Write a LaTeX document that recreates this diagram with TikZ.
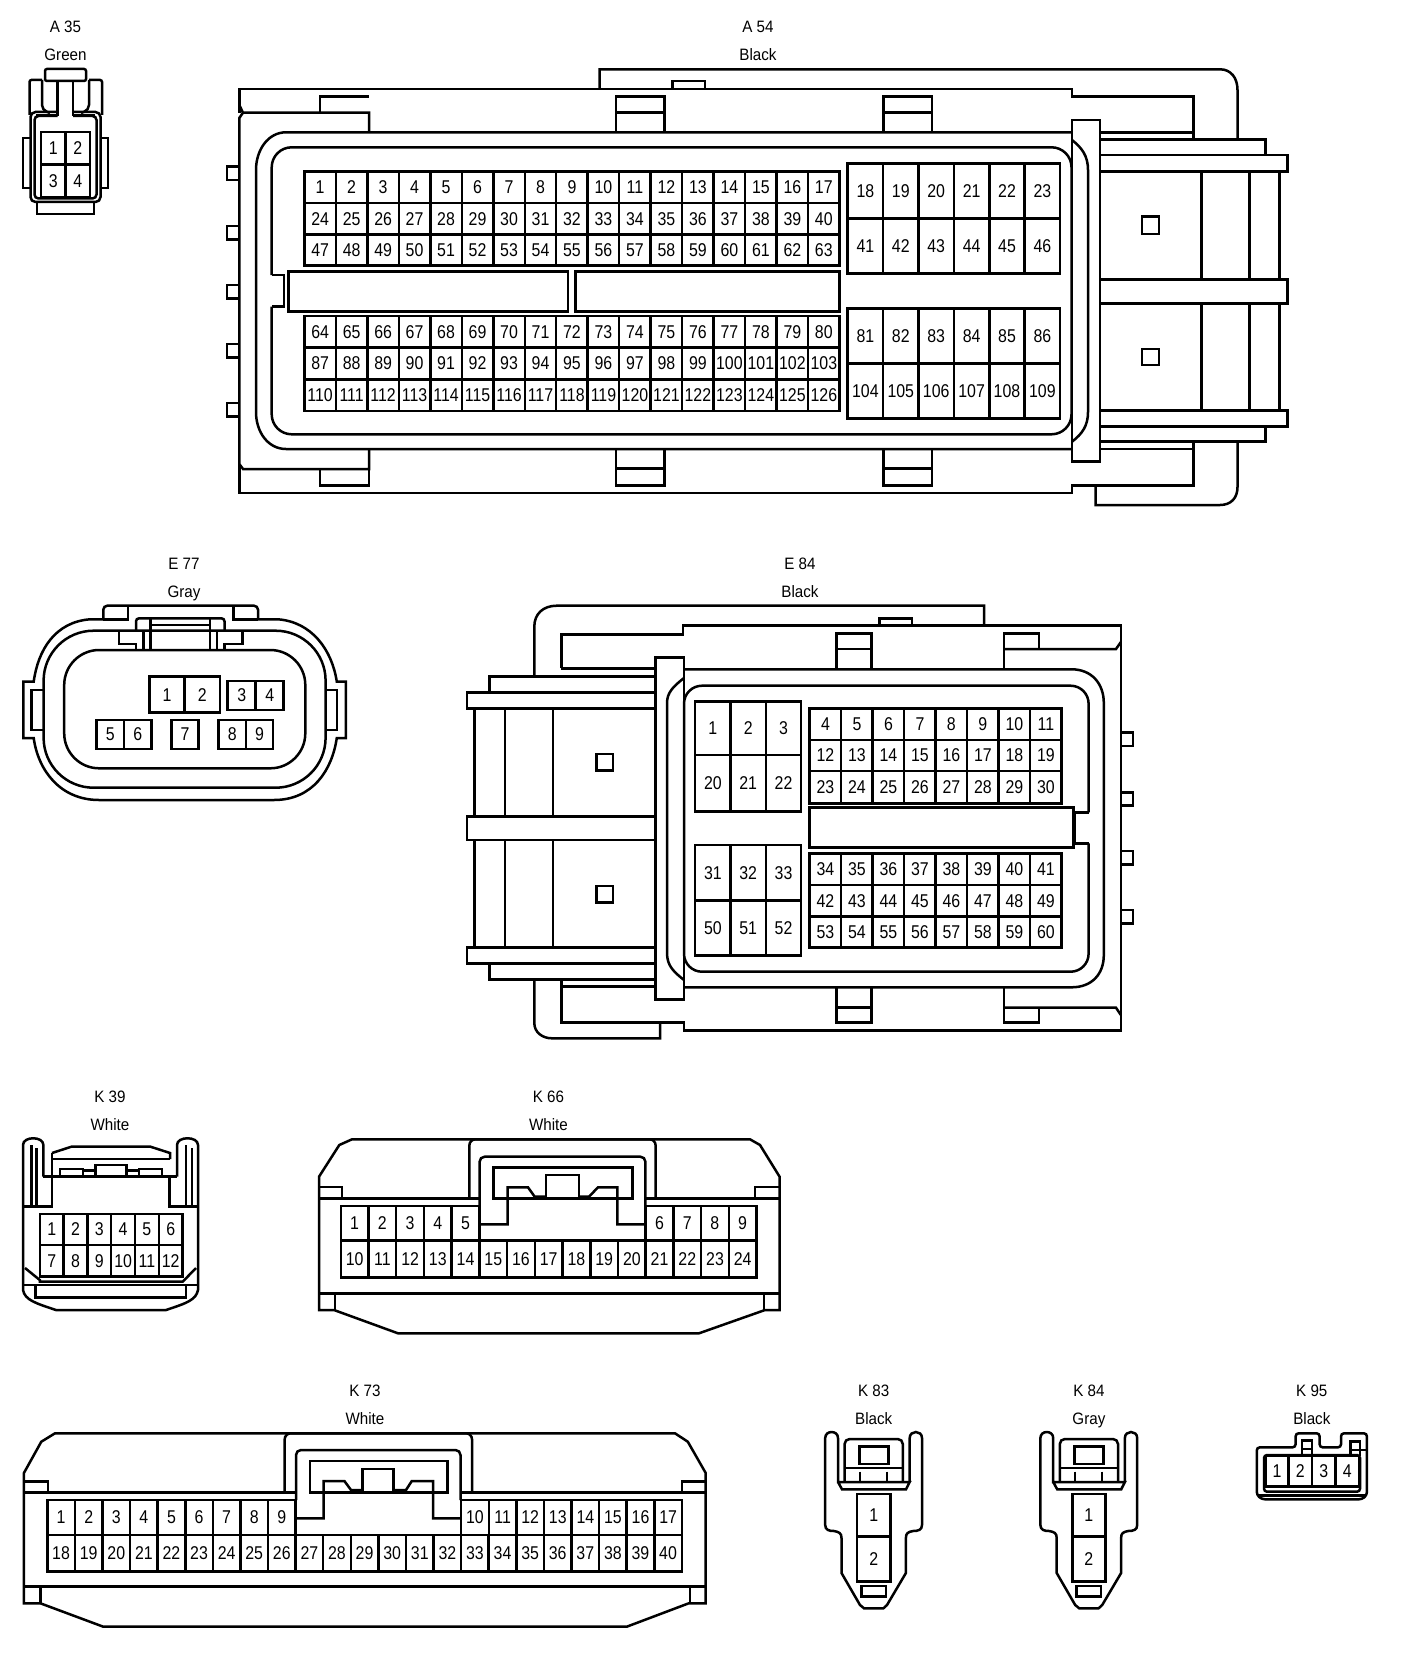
\documentclass[tikz,border=0pt]{standalone}
\usepackage{fontspec}
\newfontfamily\pinfont[FakeStretch=0.86]{Liberation Sans}
\newfontfamily\capfont[FakeStretch=0.92]{Liberation Sans}

\newcommand{\pingrid}[7]{% name, x, y, cell w, cell h, columns, first number
    \foreach \c in {1,...,#6} {
        \pgfmathtruncatemacro{\n}{#7+\c-1}
        \node[pincell, minimum width=#4pt, minimum height=#5pt] (#1p\n) at ({#2+(\c-0.5)*#4},{#3+0.5*#5}) {\n};
    }
}
\newcommand{\captag}[5]{% name, x, y, id, colour
    \node[captext] (#1id) at (#2,#3) {#4};
    \node[captext] (#1col) at (#2,#3+28) {#5};
}
\newcommand{\plugtwo}[2]{% name, shift
    \begin{scope}[xshift=#2pt]
        \draw (838,1438) .. controls (838,1430) and (825.2,1430) .. (825.2,1438) -- (825.2,1525)
            .. controls (825.2,1530) and (829,1531) .. (834,1531) .. controls (839,1532) and (841.5,1533) .. (841.5,1538)
            -- (841.5,1573) -- (860,1605) -- (864,1608.3) -- (883.4,1608.3) -- (887,1605) -- (905.9,1573) -- (905.9,1538)
            .. controls (905.9,1533) and (908,1532) .. (913,1531) .. controls (918,1531) and (922,1530) .. (922,1525)
            -- (922,1438) .. controls (922,1430) and (909.7,1430) .. (909.7,1438) -- (909.7,1482);
        \draw (838,1438) -- (838,1482) -- (909.7,1482) -- (906,1489.3) -- (842,1489.3) -- (838,1482);
        \draw[rounded corners=5pt] (844.6,1481) -- (844.6,1439) -- (902.8,1439) -- (902.8,1481);
        \draw (844.6,1468) -- (902.8,1468);
        \draw (859.3,1446.7) rectangle (888.4,1464);
        \draw (860,1471.7) -- (860,1481);
        \draw (887,1471.7) -- (887,1481);
        \draw (861.3,1586) rectangle (886,1596.7);
        \node[pincell, minimum width=33.3pt, minimum height=42.7pt] (#1p1) at (873.7,1515.3) {1};
        \node[pincell, minimum width=33.3pt, minimum height=45pt] (#1p2) at (873.7,1559.2) {2};
    \end{scope}
}

\begin{document}
\begin{tikzpicture}[
        x=1pt, y=-1pt,
        line width=2.5pt,
        pincell/.style={draw, rectangle, inner sep=0pt, font=\pinfont\fontsize{18.5}{18.5}\selectfont},
        captext/.style={inner sep=0pt, text height=12pt, text depth=0pt, font=\capfont\fontsize{16.5}{16.5}\selectfont}
    ]
    \useasboundingbox (0,0) rectangle (1408,1656);

    % A 35
    \captag{aa}{65.5}{26.7}{A 35}{Green}
    \draw[rounded corners=2pt] (45,69) rectangle (86,81);
    \draw (57.5,81) -- (57.5,115) -- (36,115);
    \draw (73,81) -- (73,115) -- (95,115);
    \draw[rounded corners=2pt] (42,80) -- (29.5,80) -- (29.5,115);
    \draw[rounded corners=2pt] (89,80) -- (102,80) -- (102,115);
    \draw[rounded corners=5pt] (42,80) -- (42,110) -- (50,113);
    \draw[rounded corners=5pt] (89,80) -- (89,110) -- (81,113);
    \draw[rounded corners=5pt] (57.5,112) -- (30.5,112) -- (30.5,202) -- (100.5,202) -- (100.5,112) -- (73,112);
    \draw[rounded corners=4pt] (57.5,116) -- (34.5,116) -- (34.5,198.5) -- (96.5,198.5) -- (96.5,116) -- (73,116);
    \draw (37,203) -- (37,214) -- (94,214) -- (94,203);
    \draw (30,138) -- (23,138) -- (23,188) -- (30,188);
    \draw (101,138) -- (108,138) -- (108,188) -- (101,188);
    \pingrid{aa}{41}{132}{24.5}{32.5}{2}{1}
    \pingrid{aa}{41}{164.5}{24.5}{32.5}{2}{3}

    % A 54
    \captag{ab}{758}{26.7}{A 54}{Black}
    \draw (599.5,89) -- (599.5,69.3) -- (1220,69.3) .. controls (1231,69.3) and (1237.5,78) .. (1237.5,90) -- (1237.5,139.3);
    \draw (672.5,89) -- (672.5,81) -- (705,81) -- (705,89);
    \draw (239.3,112.7) -- (239.3,89) -- (1072,89) -- (1072,96.7) -- (1193.5,96.7) -- (1193.5,139.3);
    \draw (239.3,105) -- (243,112.7) -- (369,112.7) -- (369,132.3);
    \draw (243,112.7) -- (239.3,118) -- (239.3,464) -- (243,469) -- (369,469) -- (369,449);
    \draw (239.3,464) -- (239.3,493) -- (1072,493) -- (1072,485.5) -- (1193.5,485.5) -- (1193.5,441.7);
    \draw (320,112.7) -- (320,96.7) -- (369,96.7);
    \draw (320,469) -- (320,485.5) -- (369,485.5) -- (369,469);
    \foreach \tx in {616,883.6} {
        \draw (\tx,132.3) -- (\tx,96.7) -- (\tx+48.4,96.7) -- (\tx+48.4,132.3);
        \draw (\tx,112.7) -- (\tx+48.4,112.7);
        \draw (\tx,449) -- (\tx,485.5) -- (\tx+48.4,485.5) -- (\tx+48.4,449);
        \draw (\tx,468.5) -- (\tx+48.4,468.5);
    }
    \foreach \ty in {166.7,226,285,344,403} {
        \draw (239,\ty) -- (226.8,\ty) -- (226.8,\ty+13.3) -- (239,\ty+13.3);
    }
    % outer and inner contour
    \draw (1072,132.3) -- (286,132.3) .. controls (268,132.3) and (256,150) .. (256,170) -- (256,412) .. controls (256,432) and (268,449) .. (286,449) -- (1072,449);
    \draw (1072,140) .. controls (1082,148) and (1088,156) .. (1088,170) -- (1088,412) .. controls (1088,426) and (1082,434) .. (1072,441.7);
    \draw[rounded corners=20pt] (271.7,275) -- (271.7,147.3) -- (1071.5,147.3) -- (1071.5,434.3) -- (271.7,434.3) -- (271.7,306.7);
    \draw (271.7,275) -- (284,275) -- (284,306.7) -- (271.7,306.7);
    \draw (288.3,271.7) rectangle (568,311.7);
    \draw (575.7,271.7) rectangle (839.6,311.7);
    \draw (1072,120) rectangle (1100,461.7);
    % right side rails
    \draw (1100,132.3) -- (1193.5,132.3);
    \draw (1100,139.3) -- (1265.3,139.3) -- (1265.3,155);
    \draw (1100,155) rectangle (1287.7,171.7);
    \draw (1100,279.3) rectangle (1287.7,303.3);
    \draw (1100,410.7) rectangle (1287.7,426.7);
    \draw (1265.3,426.7) -- (1265.3,441.7) -- (1100,441.7);
    \draw (1100,449) -- (1193.5,449);
    \draw (1237.5,441.7) -- (1237.5,487) .. controls (1237.5,498) and (1231,505) .. (1220,505) -- (1095.6,505) -- (1095.6,485.5);
    \foreach \vx in {1201.5,1249.6,1279.7} {
        \draw (\vx,171.7) -- (\vx,279.3);
        \draw (\vx,303.3) -- (\vx,410.7);
    }
    \draw (1141.8,216.7) rectangle (1159,234);
    \draw (1141.8,349) rectangle (1159,365);
    % pins
    \pingrid{ab}{304.4}{171.7}{31.48}{31.4}{17}{1}
    \pingrid{ab}{304.4}{203.1}{31.48}{31.3}{17}{24}
    \pingrid{ab}{304.4}{234.4}{31.48}{31.3}{17}{47}
    \pingrid{ab}{304.4}{316}{31.48}{31.6}{17}{64}
    \pingrid{ab}{304.4}{347.6}{31.48}{31.7}{17}{87}
    \pingrid{ab}{304.4}{379.3}{31.48}{31.7}{17}{110}
    \pingrid{ab}{847.7}{163.3}{35.4}{55}{6}{18}
    \pingrid{ab}{847.7}{218.3}{35.4}{55}{6}{41}
    \pingrid{ab}{847.7}{308.3}{35.4}{55}{6}{81}
    \pingrid{ab}{847.7}{363.3}{35.4}{55}{6}{104}

    % E 77
    \captag{ea}{184}{563}{E 77}{Gray}
    \draw[rounded corners=4pt] (103.3,619.3) -- (103.3,605.7) -- (258,605.7) -- (258,619.3);
    \draw (128,606) -- (128,619.3) -- (103.3,619.3);
    \draw (233.5,606) -- (233.5,619.3) -- (258,619.3);
    \draw (103.3,619.3) -- (90,619.3) .. controls (55,622) and (38,650) .. (33.7,681.7) -- (23.3,681.7) -- (23.3,738) -- (33.7,738)
        .. controls (38,770) and (60,800) .. (99,800) -- (274,800) .. controls (313,800) and (332,770) .. (336.8,738)
        -- (345.8,738) -- (345.8,681.7) -- (336.8,681.7) .. controls (332,650) and (312,622) .. (278,619.3) -- (258,619.3);
    \draw[rounded corners=50pt] (43.6,630.7) rectangle (325.6,787.7);
    \draw[rounded corners=35pt] (64.2,650) rectangle (305.3,768.3);
    \draw (43.6,690) -- (31.4,690) -- (31.4,730) -- (43.6,730);
    \draw (325.6,690) -- (336.8,690) -- (336.8,730) -- (325.6,730);
    \draw[rounded corners=3pt] (136,630.7) -- (136,618.3) -- (224.5,618.3) -- (224.5,630.7);
    \draw (150.4,618.3) -- (150.4,650);
    \draw (210,618.3) -- (210,650);
    \draw (150.4,625) -- (210,625);
    \draw (143.7,630.7) -- (143.7,650);
    \draw (217,630.7) -- (217,650);
    \draw (119,632) -- (119,644) -- (136,644) -- (136,650);
    \draw (242.5,632) -- (242.5,644) -- (224.5,644) -- (224.5,650);
    \pingrid{ea}{149.5}{676.7}{35.2}{36}{2}{1}
    \pingrid{ea}{227.7}{681}{28}{29}{2}{3}
    \pingrid{ea}{96.5}{720}{27.6}{29}{2}{5}
    \pingrid{ea}{171.5}{720}{27}{29}{1}{7}
    \pingrid{ea}{218.7}{720}{27.2}{29}{2}{8}

    % E 84
    \captag{eb}{800}{563}{E 84}{Black}
    \draw (534.3,676.7) -- (534.3,626.7) .. controls (534.3,614) and (543,605.7) .. (556.8,605.7) -- (984,605.7) -- (984,625.7);
    \draw (879.3,625.7) -- (879.3,618.3) -- (912,618.3) -- (912,625.7);
    \draw (561.3,668.3) -- (561.3,634.3) -- (683,634.3) -- (683,625.7) -- (1120.9,625.7) -- (1120.9,1030.7) -- (684,1030.7) -- (684,1022.3) -- (561.3,1022.3) -- (561.3,980);
    \draw (1004,669.3) -- (1004,633.3) -- (1039,633.3) -- (1039,649);
    \draw (1004,649) -- (1116,649) -- (1120.9,642);
    \draw (1004,987.3) -- (1004,1022.3) -- (1039,1022.3) -- (1039,1007.7);
    \draw (1004,1007.7) -- (1116,1007.7) -- (1120.9,1015);
    \foreach \tx in {836.6} {
        \draw (\tx,669.3) -- (\tx,633.3) -- (\tx+35.1,633.3) -- (\tx+35.1,669.3);
        \draw (\tx,649) -- (\tx+35.1,649);
        \draw (\tx,987.3) -- (\tx,1022.3) -- (\tx+35.1,1022.3) -- (\tx+35.1,987.3);
        \draw (\tx,1007.7) -- (\tx+35.1,1007.7);
    }
    \foreach \ty in {732.7,792.3,851,910} {
        \draw (1121,\ty) -- (1133,\ty) -- (1133,\ty+13.3) -- (1121,\ty+13.3);
    }
    % contours
    \draw (684,669.3) -- (1071.5,669.3) .. controls (1092,669.3) and (1103.8,684) .. (1103.8,703) -- (1103.8,955) .. controls (1103.8,974) and (1092,987.3) .. (1071.5,987.3) -- (684,987.3);
    \draw (684,678) .. controls (674,686) and (667,692) .. (667,703) -- (667,953) .. controls (667,966) and (674,972) .. (684,980);
    \draw[rounded corners=18pt] (1088.6,812.3) -- (1088.6,685.7) -- (684,685.7) -- (684,971.7) -- (1088.6,971.7) -- (1088.6,843.3);
    \draw (1088.6,812.3) -- (1075,812.3) -- (1075,843.3) -- (1088.6,843.3);
    \draw (809.7,807.7) rectangle (1073.7,847.3);
    \draw (655.6,657.3) rectangle (684,999.3);
    % left side rails
    \draw (561.3,668.3) -- (655.6,668.3);
    \draw (534.3,676.7) -- (489.5,676.7) -- (489.5,692.7);
    \draw (534.3,676.7) -- (655.6,676.7);
    \draw (467,692.7) rectangle (655.6,708.3);
    \draw (467,816.7) rectangle (655.6,840);
    \draw (467,947.3) rectangle (655.6,963.3);
    \draw (489.5,963.3) -- (489.5,979.3) -- (655.6,979.3);
    \draw (561.3,986.7) -- (655.6,986.7);
    \draw (534.3,979.3) -- (534.3,1023) .. controls (534.3,1032) and (542,1038.3) .. (552,1038.3) -- (660,1038.3) -- (660,1022.3);
    \foreach \vx in {474.6,505,553} {
        \draw (\vx,708.3) -- (\vx,816.7);
        \draw (\vx,840) -- (\vx,947.3);
    }
    \draw (596.3,754) rectangle (613,770.7);
    \draw (596.3,886) rectangle (613,902.3);
    % pins
    \pingrid{eb}{695.2}{701.7}{35.33}{53.3}{3}{1}
    \pingrid{eb}{695.2}{755}{35.33}{56.7}{3}{20}
    \pingrid{eb}{695.2}{845}{35.33}{55.7}{3}{31}
    \pingrid{eb}{695.2}{900.7}{35.33}{55}{3}{50}
    \pingrid{eb}{809.7}{708.3}{31.49}{31.7}{8}{4}
    \pingrid{eb}{809.7}{740}{31.49}{31}{8}{12}
    \pingrid{eb}{809.7}{771}{31.49}{32.3}{8}{23}
    \pingrid{eb}{809.7}{853.3}{31.49}{31.7}{8}{34}
    \pingrid{eb}{809.7}{885}{31.49}{31.7}{8}{42}
    \pingrid{eb}{809.7}{916.7}{31.49}{30.6}{8}{53}

    % K 39
    \captag{ka}{110}{1096.7}{K 39}{White}
    \draw (43.4,1176.7) -- (43.4,1145) .. controls (43.4,1136) and (23,1136) .. (23,1145) -- (23,1290) .. controls (25,1300) and (35,1303) .. (56,1310) -- (166,1310) .. controls (187,1303) and (196,1300) .. (198,1290) -- (198,1145) .. controls (198,1136) and (177,1136) .. (177,1145) -- (177,1176.7);
    \draw (31.6,1145) -- (31.6,1206.7);
    \draw (36.7,1148) -- (36.7,1206.7);
    \draw (52,1153) -- (52,1206.7) -- (23,1206.7);
    \draw (169.4,1176.7) -- (169.4,1206.7) -- (198,1206.7);
    \draw (186,1145) -- (186,1206.7);
    \draw (192,1148) -- (192,1206.7);
    \draw (52,1153) -- (71.4,1146.7) -- (150.5,1146.7) -- (170,1153) -- (170,1159);
    \draw (52,1159) -- (170,1159);
    \draw (43.4,1176.7) -- (177,1176.7);
    \draw (60,1176.7) -- (60,1169) -- (83,1169) -- (83,1176.7);
    \draw (138.8,1176.7) -- (138.8,1169) -- (162,1169) -- (162,1176.7);
    \draw (95.4,1176.7) -- (95.4,1165) -- (126.5,1165) -- (126.5,1176.7);
    \draw (83,1170.7) -- (95.4,1170.7);
    \draw (126.5,1170.7) -- (138.8,1170.7);
    \draw (25,1268) -- (39.8,1280) -- (39.8,1281.7) -- (182.7,1281.7) -- (196,1268);
    \draw (23,1285) -- (198,1285);
    \draw (35.7,1286) -- (35.7,1297.3) -- (186,1297.3) -- (186,1286);
    \pingrid{ka}{39.8}{1214}{23.8}{31}{6}{1}
    \pingrid{ka}{39.8}{1245}{23.8}{31.7}{6}{7}

    % K 66
    \captag{kb}{548.5}{1096.7}{K 66}{White}
    \draw (319,1310) -- (319,1176.7) -- (339.3,1145) -- (352,1139.3) -- (750,1139.3) -- (760,1145) -- (779.6,1176.7) -- (779.6,1310) -- (765,1310) -- (699,1333.3) -- (398,1333.3) -- (334,1310) -- cycle;
    \draw (319,1198.3) -- (479.6,1198.3);
    \draw (645.4,1198.3) -- (779.6,1198.3);
    \draw (319,1187) -- (342,1187) -- (342,1198.3);
    \draw (779.6,1187) -- (755,1187) -- (755,1198.3);
    \draw[rounded corners=6pt] (469.4,1198.3) -- (469.4,1139.3) -- (655.6,1139.3) -- (655.6,1198.3);
    \draw[rounded corners=5pt] (479.6,1206) -- (479.6,1156.7) -- (645.4,1156.7) -- (645.4,1206);
    \draw (493.4,1167.3) rectangle (632.7,1198.3);
    \draw (480.6,1224.3) -- (507.7,1224.3) -- (507.7,1187.3) -- (528,1187.3) -- (534.7,1196.7) -- (546,1196.7);
    \draw (546,1198) -- (546,1175) -- (579,1175) -- (579,1198);
    \draw (579,1196.7) -- (589,1196.7) -- (598,1187.3) -- (617.3,1187.3) -- (617.3,1224.3) -- (645.4,1224.3);
    \draw (319,1293.3) -- (779.6,1293.3);
    \draw (335,1293.3) -- (335,1310);
    \draw (764,1293.3) -- (764,1310);
    \pingrid{kb}{340.8}{1206}{27.72}{34.7}{5}{1}
    \pingrid{kb}{645.6}{1206}{27.72}{34.7}{4}{6}
    \pingrid{kb}{340.8}{1240.7}{27.72}{37}{15}{10}

    % K 73
    \captag{kc}{365}{1390.7}{K 73}{White}
    \draw (23.9,1603.3) -- (23.9,1473) -- (41.3,1441.7) -- (55,1433.3) -- (675,1433.3) -- (687.8,1441.7) -- (705.7,1473) -- (705.7,1603.3) -- (688.7,1603.3) -- (626.7,1626.7) -- (103.3,1626.7) -- (40.4,1603.3) -- cycle;
    \draw (23.9,1492.7) -- (296,1492.7);
    \draw (461.4,1492.7) -- (705.7,1492.7);
    \draw (23.9,1481.7) -- (48.2,1481.7) -- (48.2,1492.7);
    \draw (705.7,1481.7) -- (681.8,1481.7) -- (681.8,1492.7);
    \draw[rounded corners=6pt] (284.7,1492.7) -- (284.7,1433.3) -- (472,1433.3) -- (472,1492.7);
    \draw[rounded corners=5pt] (296,1500) -- (296,1450) -- (460.5,1450) -- (460.5,1500);
    \draw (310,1461) rectangle (447.7,1492.7);
    \draw (296,1518.3) -- (323.7,1518.3) -- (323.7,1481) -- (344.4,1481) -- (351,1490) -- (362.7,1490);
    \draw (362.7,1492) -- (362.7,1469) -- (393.5,1469) -- (393.5,1492);
    \draw (393.5,1490) -- (406,1490) -- (411.8,1481) -- (433,1481) -- (433,1518.3) -- (461.4,1518.3);
    \draw (23.9,1586.7) -- (705.7,1586.7);
    \draw (40.4,1586.7) -- (40.4,1603.3);
    \draw (690,1586.7) -- (690,1603.3);
    \pingrid{kc}{47.3}{1500}{27.59}{35}{9}{1}
    \pingrid{kc}{461.2}{1500}{27.59}{35}{8}{10}
    \pingrid{kc}{47.3}{1535}{27.59}{36.7}{23}{18}

    % K 83, K 84
    \captag{kd}{873.7}{1390.7}{K 83}{Black}
    \plugtwo{kd}{0}
    \captag{ke}{1088.9}{1390.7}{K 84}{Gray}
    \plugtwo{ke}{215.2}

    % K 95
    \captag{kf}{1311.8}{1390.7}{K 95}{Black}
    \draw[rounded corners=3pt] (1366.9,1495) -- (1366.9,1433.3) -- (1341,1433.3) -- (1341,1447.3) -- (1319.6,1447.3) -- (1319.6,1433.3) -- (1295.6,1433.3) -- (1295.6,1447.3) -- (1256.8,1447.3) -- (1256.8,1495) -- (1262,1499.3) -- (1362,1499.3) -- cycle;
    \draw[rounded corners=3pt] (1264,1491.7) rectangle (1360,1455);
    \draw (1302,1456) -- (1302,1440.7) -- (1312,1440.7) -- (1312,1456);
    \draw (1302,1449) -- (1312,1449);
    \draw (1350.6,1456) -- (1350.6,1441.7) -- (1360,1441.7) -- (1360,1456);
    \draw (1350.6,1450) -- (1366,1450);
    \draw (1258,1495.5) -- (1366,1495.5);
    \pingrid{kf}{1265.3}{1456}{23.4}{30.7}{4}{1}
\end{tikzpicture}
\end{document}
